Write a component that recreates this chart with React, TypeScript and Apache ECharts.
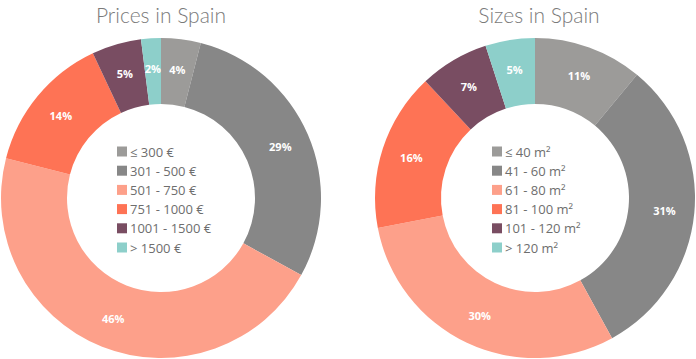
import React, { useEffect, useRef } from "react";
import * as echarts from "echarts";

const priceCategories = ["≤ 300 €", "301 - 500 €", "501 - 750 €", "751 - 1000 €", "1001 - 1500 €", "> 1500 €"];
const priceValues = [4, 29, 46, 14, 5, 2];
const sizeCategories = ["≤ 40 m²", "41 - 60 m²", "61 - 80 m²", "81 - 100 m²", "101 - 120 m²", "> 120 m²"];
const sizeValues = [11, 31, 30, 16, 7, 5];
const colors = ["#9c9b99", "#878787", "#fda08a", "#fe7355", "#794d62", "#8dcfca"];

export default function App() {
  const ref = useRef<HTMLDivElement>(null);
  useEffect(() => {
    if (!ref.current) return;
    const chart = echarts.init(ref.current, null, { renderer: "svg" });
    const legendText = { color: "#6e6e6e", fontSize: 13, fontFamily: "Open Sans", padding: [0, 0, 0, -2] };
    const titleText = { color: "#7a7a7a", fontSize: 21, fontWeight: 300, fontFamily: "Lato" };
    const pie = (name: string, cats: string[], vals: number[], cx: number) => ({
      type: "pie",
      name,
      center: [cx, 198],
      radius: [94, 160],
      startAngle: 90,
      clockwise: true,
      avoidLabelOverlap: false,
      label: {
        show: true,
        position: "inside",
        formatter: "{c}%",
        color: "#ffffff",
        fontSize: 11,
        fontWeight: "bold",
        fontFamily: "Open Sans",
      },
      labelLine: { show: false },
      emphasis: { disabled: true },
      data: cats.map((c, i) => ({ name: c, value: vals[i], itemStyle: { color: colors[i] } })),
    });
    const legend = (data: string[], left: number) => ({
      data,
      orient: "vertical",
      left,
      top: 145,
      padding: 0,
      itemWidth: 10,
      itemHeight: 10,
      itemGap: 6.2,
      icon: "rect",
      selectedMode: false,
      textStyle: legendText,
    });
    chart.setOption({
      animation: false,
      title: [
        { text: "Prices in Spain", left: 161, top: 4, padding: 0, textAlign: "center", textStyle: titleText },
        { text: "Sizes in Spain", left: 539, top: 4, padding: 0, textAlign: "center", textStyle: titleText },
      ],
      legend: [legend(priceCategories, 117), legend(sizeCategories, 492)],
      series: [
        pie("Prices", priceCategories, priceValues, 161),
        pie("Sizes", sizeCategories, sizeValues, 535),
      ],
    });
    return () => chart.dispose();
  }, []);
  return (
    <div
      ref={ref}
      style={{ position: "fixed", left: 0, top: 0, width: 696, height: 359, background: "#ffffff" }}
    />
  );
}
